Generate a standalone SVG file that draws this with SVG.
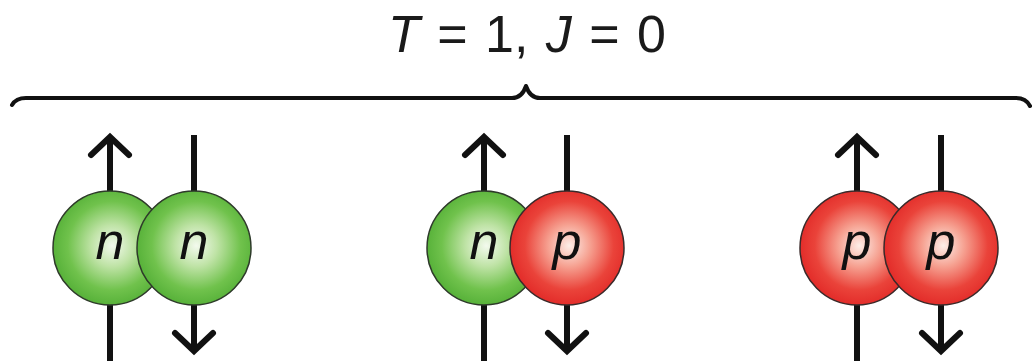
<svg xmlns="http://www.w3.org/2000/svg" width="1034" height="361" viewBox="0 0 1034 361">
  <defs>
    <radialGradient id="gN" cx="52%" cy="48%" r="52%">
      <stop offset="0" stop-color="#f3faee"/>
      <stop offset="0.35" stop-color="#bfe3a6"/>
      <stop offset="0.75" stop-color="#70c24c"/>
      <stop offset="1" stop-color="#58b23a"/>
    </radialGradient>
    <radialGradient id="gP" cx="52%" cy="48%" r="52%">
      <stop offset="0" stop-color="#fdeee8"/>
      <stop offset="0.35" stop-color="#f6a292"/>
      <stop offset="0.75" stop-color="#ea433a"/>
      <stop offset="1" stop-color="#e32d2a"/>
    </radialGradient>
  </defs>
  <style>
    .title { font-family: "Liberation Sans", Arial, sans-serif; font-size: 52px; fill: #1a1a1a; word-spacing: 3px; }
    .lbl { font-family: "Liberation Sans", Arial, sans-serif; font-size: 52px; font-style: italic; fill: #111; text-anchor: middle; }
    .brace { fill: none; stroke: #111; stroke-width: 4; stroke-linejoin: round; stroke-linecap: round; }
    .spin { fill: none; stroke: #111; stroke-width: 6; stroke-linecap: butt; stroke-linejoin: miter; }
    .head { fill: none; stroke: #111; stroke-width: 6; stroke-linecap: round; stroke-linejoin: miter; }
    .n { fill: url(#gN); stroke: #2e3a2a; stroke-width: 1.5; }
    .p { fill: url(#gP); stroke: #3a2a2a; stroke-width: 1.5; }
  </style>
  <rect width="1034" height="361" fill="#ffffff"/>

  <g id="title">
    <text class="title" x="527" y="52" text-anchor="middle"><tspan font-style="italic">T</tspan> = 1, <tspan font-style="italic">J</tspan> = 0</text>
  </g>

  <g id="brace">
    <path class="brace" d="M12,105 Q16,98 26,98 L512,98 Q522,98 526,86 Q530,98 540,98 L1016,98 Q1026,98 1030,106"/>
  </g>

  <g id="connectors">
    <!-- pair 1 -->
    <line class="spin" x1="110" y1="140" x2="110" y2="361"/>
    <polyline class="head" points="91,155 110,137 129,155"/>
    <line class="spin" x1="194" y1="135" x2="194" y2="348"/>
    <polyline class="head" points="175,333 194,351 213,333"/>
    <!-- pair 2 -->
    <line class="spin" x1="484" y1="140" x2="484" y2="361"/>
    <polyline class="head" points="465,155 484,137 503,155"/>
    <line class="spin" x1="567" y1="135" x2="567" y2="348"/>
    <polyline class="head" points="548,333 567,351 586,333"/>
    <!-- pair 3 -->
    <line class="spin" x1="857" y1="140" x2="857" y2="361"/>
    <polyline class="head" points="838,155 857,137 876,155"/>
    <line class="spin" x1="941" y1="135" x2="941" y2="348"/>
    <polyline class="head" points="922,333 941,351 960,333"/>
  </g>

  <g id="nn-left">
    <circle class="n" cx="110" cy="248" r="57"/>
    <text class="lbl" x="110" y="259">n</text>
  </g>
  <g id="nn-right">
    <circle class="n" cx="194" cy="248" r="57"/>
    <text class="lbl" x="194" y="259">n</text>
  </g>

  <g id="np-left">
    <circle class="n" cx="484" cy="248" r="57"/>
    <text class="lbl" x="484" y="259">n</text>
  </g>
  <g id="np-right">
    <circle class="p" cx="567" cy="248" r="57"/>
    <text class="lbl" x="567" y="259">p</text>
  </g>

  <g id="pp-left">
    <circle class="p" cx="857" cy="248" r="57"/>
    <text class="lbl" x="857" y="259">p</text>
  </g>
  <g id="pp-right">
    <circle class="p" cx="941" cy="248" r="57"/>
    <text class="lbl" x="941" y="259">p</text>
  </g>
</svg>
